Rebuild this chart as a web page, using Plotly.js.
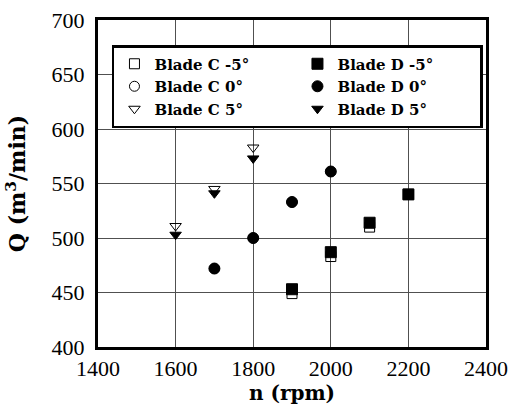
<!DOCTYPE html>
<html><head><meta charset="utf-8">
<script src="https://cdn.plot.ly/plotly-3.0.1.min.js"></script>
<style>body{margin:0;padding:0;background:#fff}#c{width:509px;height:410px}</style>
</head><body><div id="c"></div>
<script>
const speedCm5 = [1900, 2000, 2100, 2200];
const qCm5 = [449, 483, 510, 540];
const speedDm5 = [1900, 2000, 2100, 2200];
const qDm5 = [453, 487, 514, 540];
const speedC0 = [1700, 1800, 1900, 2000];
const qC0 = [472, 500, 533, 561];
const speedD0 = [1700, 1800, 1900, 2000];
const qD0 = [472, 500, 533, 561];
const speedC5 = [1600, 1700, 1800];
const qC5 = [511, 545, 583];
const speedD5 = [1600, 1700, 1800];
const qD5 = [503, 541, 573];
const names = ['Blade C -5°','Blade D -5°','Blade C 0°','Blade D 0°','Blade C 5°','Blade D 5°'];
const xTicks = [1400,1600,1800,2000,2200,2400];
const yTicks = [400,450,500,550,600,650,700];

function tr(x,y,name,sym,size){
  return {x:x,y:y,name:name,type:'scatter',mode:'markers',cliponaxis:false,
    marker:{symbol:sym,size:size,color:'black',line:{color:'black',width:1}}};
}
const data = [
  tr(speedCm5,qCm5,names[0],'square-open',10),
  tr(speedDm5,qDm5,names[1],'square',11),
  tr(speedC0,qC0,names[2],'circle-open',10),
  tr(speedD0,qD0,names[3],'circle',11),
  tr(speedC5,qC5,names[4],'triangle-down-open',10),
  tr(speedD5,qD5,names[5],'triangle-down',10)
];
const tickFont = {family:'Liberation Serif', size:22, color:'black'};
const layout = {
  width:509, height:410,
  margin:{l:98, r:23, t:20, b:63},
  paper_bgcolor:'white', plot_bgcolor:'white',
  showlegend:true,
  legend:{orientation:'h', x:0.036, y:0.9235, xanchor:'left', yanchor:'top',
    entrywidth:138, bgcolor:'white', bordercolor:'black', borderwidth:2.5,
    font:{family:'DejaVu Serif', size:15, color:'black', weight:'bold'},
    tracegroupgap:0},
  xaxis:{range:[1400,2400], tickvals:xTicks, ticktext:xTicks.map(String),
    showgrid:true, gridcolor:'#505050', gridwidth:1, zeroline:false,
    showline:true, linecolor:'black', linewidth:3, mirror:true, ticks:'',
    ticklabeloverflow:'allow',
    tickfont:tickFont,
    title:{text:'n (rpm)', font:{family:'DejaVu Serif', size:20, color:'black', weight:'bold'}, standoff:2}},
  yaxis:{range:[400,700], tickvals:yTicks, ticktext:yTicks.map(String),
    showgrid:true, gridcolor:'#505050', gridwidth:1, zeroline:false,
    showline:true, linecolor:'black', linewidth:3, mirror:true, ticks:'',
    ticklabelstandoff:6,
    tickfont:tickFont,
    title:{text:'Q (m<sup>3</sup>/min)', font:{family:'DejaVu Serif', size:22, color:'black', weight:'bold'}, standoff:20}}
};
Plotly.newPlot('c', data, layout, {displayModeBar:false, staticPlot:true});
</script></body></html>
